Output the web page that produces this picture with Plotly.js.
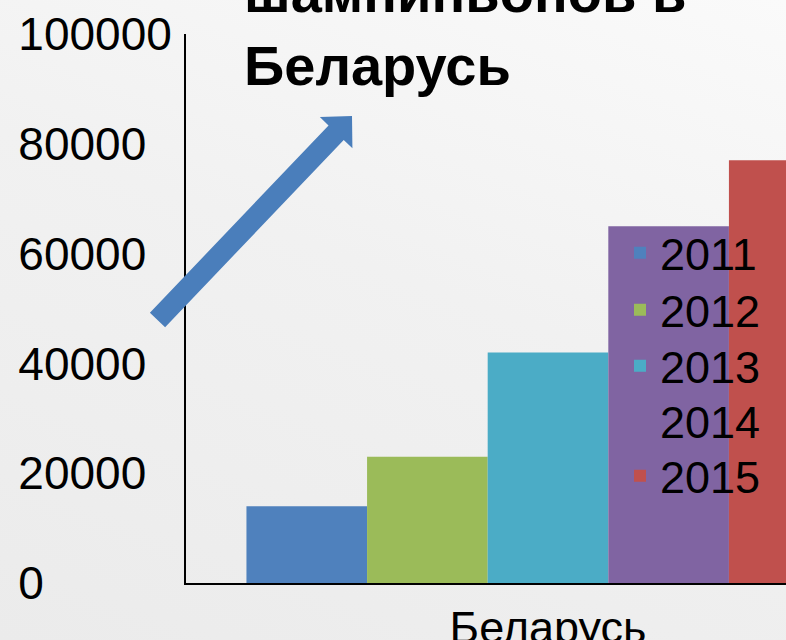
<!DOCTYPE html>
<html>
<head>
<meta charset="utf-8">
<script src="https://cdn.plot.ly/plotly-3.0.1.min.js"></script>
<style>
html,body{margin:0;padding:0;overflow:hidden;width:786px;height:640px;}
body{background:linear-gradient(200deg,#fafafa 0%,#f1f1f1 45%,#ebebeb 100%);}
#chart{width:786px;height:640px;}
</style>
</head>
<body>
<div id="chart"></div>
<script>
// Data
const categories = ['Беларусь'];
const seriesNames = ['2011', '2012', '2013', '2014', '2015'];
const values2011 = [14000];
const values2012 = [23000];
const values2013 = [42000];
const values2014 = [65000];
const values2015 = [77000];
const yTickVals = [0, 20000, 40000, 60000, 80000, 100000];
const yTickLabels = ['0', '20000', '40000', '60000', '80000', '100000'];
const titleText = 'шампиньонов в<br>Беларусь';

const colors = ['#4f81bd', '#9bbb59', '#4bacc6', '#8064a2', '#c0504d'];
const allValues = [values2011, values2012, values2013, values2014, values2015];

const W = 786, H = 640;
const M = {l: 186, r: 0, t: 34, b: 57};
const pw = W - M.l - M.r, ph = H - M.t - M.b;
const px2x = p => (p - M.l) / pw;
const px2y = p => (H - M.b - p) / ph;

const legendIds = ['legend', 'legend2', 'legend3', 'legend4', 'legend5'];
const traces = seriesNames.map((name, i) => ({
  type: 'bar',
  name: name,
  x: categories,
  y: allValues[i],
  legend: legendIds[i],
  marker: {color: colors[i], line: {width: 0}},
  hoverinfo: 'none'
}));

// left-align tick labels by padding with figure spaces
const maxLen = Math.max(...yTickLabels.map(s => s.length));
const paddedLabels = yTickLabels.map(s => s + '\u2007'.repeat(maxLen - s.length));

// decorative arrow (pixel geometry -> paper coords)
function arrowPath() {
  const T = [157.5, 320], P = [352, 116];
  const dx = P[0] - T[0], dy = P[1] - T[1];
  const len = Math.hypot(dx, dy);
  const d = [dx / len, dy / len];
  const n = [-d[1], d[0]];
  const headLen = 23, shaftHalf = 10.5, headHalf = 22.5;
  const Hc = [P[0] - d[0] * headLen, P[1] - d[1] * headLen];
  const pts = [
    [T[0] + n[0] * shaftHalf, T[1] + n[1] * shaftHalf],
    [Hc[0] + n[0] * shaftHalf, Hc[1] + n[1] * shaftHalf],
    [Hc[0] + n[0] * headHalf, Hc[1] + n[1] * headHalf],
    P,
    [Hc[0] - n[0] * headHalf, Hc[1] - n[1] * headHalf],
    [Hc[0] - n[0] * shaftHalf, Hc[1] - n[1] * shaftHalf],
    [T[0] - n[0] * shaftHalf, T[1] - n[1] * shaftHalf]
  ];
  return 'M' + pts.map(p => px2x(p[0]).toFixed(5) + ',' + px2y(p[1]).toFixed(5)).join(' L') + ' Z';
}

const font = '"Liberation Sans", Arial, sans-serif';

const layout = {
  width: W, height: H,
  margin: M,
  paper_bgcolor: 'rgba(0,0,0,0)',
  plot_bgcolor: 'rgba(0,0,0,0)',
  font: {family: font, color: '#000'},
  barmode: 'group',
  bargap: 0.167,
  bargroupgap: 0,
  showlegend: true,
  title: {
    text: titleText,
    font: {family: font, size: 56, color: '#000', weight: 'bold'},
    xref: 'container', x: 244 / W, xanchor: 'left',
    yref: 'container', y: (H - 12) / H, yanchor: 'bottom'
  },
  xaxis: {
    type: 'category',
    range: [-0.5, -0.5 + pw / 724],
    autorange: false,
    showline: true, linecolor: '#000', linewidth: 2,
    showgrid: false, zeroline: false,
    ticks: '',
    tickfont: {family: font, size: 45, color: '#000'},
    ticklabelstandoff: 4,
    fixedrange: true
  },
  yaxis: {
    range: [0, 100000], autorange: false,
    showline: true, linecolor: '#000', linewidth: 2,
    showgrid: false, zeroline: false,
    ticks: '',
    tickmode: 'array', tickvals: yTickVals, ticktext: paddedLabels,
    tickfont: {family: font, size: 46, color: '#000'},
    ticklabelstandoff: 3,
    fixedrange: true
  },
  shapes: [{
    type: 'path', xref: 'paper', yref: 'paper', layer: 'above',
    path: arrowPath(),
    fillcolor: '#4a7ebb', line: {width: 0}
  }]
};

// one single-entry legend per series, stacked like the reference
const legendCentersPx = [253, 310, 366, 421, 476];
legendIds.forEach((id, i) => {
  layout[id] = {
    x: px2x(620), xanchor: 'left',
    y: px2y(legendCentersPx[i]), yanchor: 'middle',
    bgcolor: 'rgba(0,0,0,0)',
    font: {family: font, size: 45, color: '#000'},
    itemclick: false, itemdoubleclick: false
  };
});

Plotly.newPlot('chart', traces, layout, {displayModeBar: false, staticPlot: true});
</script>
</body>
</html>
